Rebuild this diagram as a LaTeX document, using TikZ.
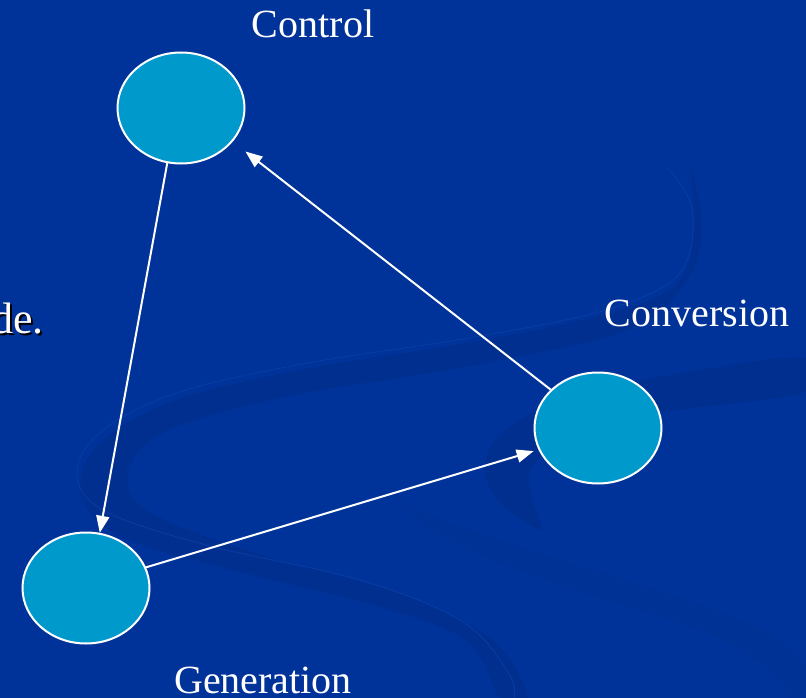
\documentclass[tikz,border=0pt]{standalone}
\usepackage{fontspec}
\setmainfont{Liberation Serif}
\usetikzlibrary{arrows.meta,shapes.geometric}
\definecolor{bgblue}{RGB}{0,51,153}
\definecolor{swirl}{RGB}{0,47,144}
\definecolor{swirlfaint}{RGB}{0,49,148}
\definecolor{swirledge}{RGB}{10,60,162}
\definecolor{nodefill}{RGB}{0,153,204}
\tikzset{
  blob/.style={ellipse, draw=white, line width=2pt, fill=nodefill, minimum width=127pt, minimum height=111pt, inner sep=0pt},
  lbl/.style={text=white, font=\fontsize{40}{44}\selectfont, anchor=base, inner sep=0pt},
  conn/.style={draw=white, line width=2pt, -{Triangle[length=17pt,width=13pt]}},
}
\begin{document}
\begin{tikzpicture}[x=1pt,y=-1pt]
\fill[bgblue] (0,0) rectangle (806,698);
\useasboundingbox (0,0) rectangle (806,698);
\begin{scope}
\clip (0,0) rectangle (806,698);
% big swirl band
\fill[swirl] plot[smooth cycle, tension=0.6] coordinates {
 (690,165) (694,235) (672,288) (590,318) (460,344) (300,370) (170,402) (96,447) (82,497) (122,537) (232,570) (380,607) (468,642) (500,698)
 (528,698) (492,640) (400,594) (252,552) (150,512) (128,474) (165,432) (285,397) (470,366) (622,332) (682,288) (702,232)};
\draw[swirledge, line width=0.8pt] plot[smooth, tension=0.6] coordinates {
 (668,168) (691,205) (689,255) (663,287) (591,314) (463,339) (308,363) (180,392) (103,430) (77,472) (103,510) (206,545) (360,580) (463,622) (509,674) (514,698)};
% right band
\fill[swirl] plot[smooth cycle, tension=0.6] coordinates {
 (806,358) (700,370) (600,390) (520,420) (487,455) (494,496) (540,530) (532,498) (532,468) (565,440) (650,414) (806,392)};
% lower right faint band
\fill[swirlfaint] plot[smooth cycle, tension=0.6] coordinates {
 (378,470) (430,530) (560,585) (700,630) (770,670) (790,698) (806,698) (806,668) (760,628) (640,585) (500,540) (410,505)};
\end{scope}

\node[blob] (ctl) at (181,108) {};
\node[blob] (conv) at (598,428) {};
\node[blob] (gen) at (86,588) {};

\node[lbl] (tctl) at (313,38) {Control};
\node[lbl] (tconv) at (697,326) {Conversion};
\node[lbl] (tgen) at (263,693) {Generation};

\node[lbl, anchor=base east, text=black, font=\fontsize{44}{48}\selectfont] (deshadow) at (46,335) {de.};
\node[lbl, anchor=base east, font=\fontsize{44}{48}\selectfont] (de) at (44,333) {de.};

\draw[conn] (ctl.256) -- (gen.76);
\draw[conn, shorten >=16pt] (conv.141) -- (ctl.327);
\draw[conn, shorten >=5pt] (gen.19.5) -- (conv.200.5);
\end{tikzpicture}
\end{document}
